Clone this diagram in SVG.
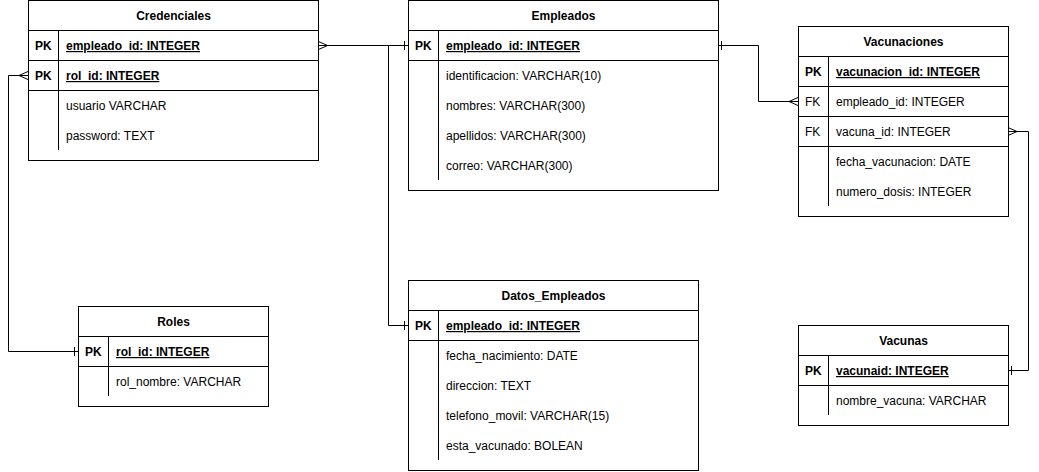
<svg xmlns="http://www.w3.org/2000/svg" width="1039" height="472" viewBox="0 0 1039 472">
<style>
.box{fill:#fff;stroke:#000;stroke-width:1}
.ln{stroke:#000;stroke-width:1;fill:none}
text{font-family:"Liberation Sans",Arial,sans-serif;font-size:12px;fill:#000}
.h{font-weight:bold;text-anchor:middle}
.k{font-weight:bold}
.u{font-weight:bold;text-decoration:underline}
</style>
<defs>
<marker id="one" viewBox="-10 -10 20 20" markerWidth="20" markerHeight="20" refX="0" refY="0" orient="auto-start-reverse" markerUnits="userSpaceOnUse"><path d="M-3.5,-4.5V4.5" stroke="#000" stroke-width="1" fill="none"/></marker>
<marker id="many" viewBox="-10 -10 20 20" markerWidth="20" markerHeight="20" refX="0" refY="0" orient="auto-start-reverse" markerUnits="userSpaceOnUse"><path d="M0,-4L-9,0L0,4" stroke="#000" stroke-width="1" fill="none"/></marker>
</defs>
<g id="connectors">
<path class="ln" d="M408,45.5H318.5" marker-start="url(#one)" marker-end="url(#many)"/>
<path class="ln" d="M408,45.5H388.5V325.5H408" marker-end="url(#one)"/>
<path class="ln" d="M28,75.5H8.5V351.5H78" marker-start="url(#many)" marker-end="url(#one)"/>
<path class="ln" d="M718,45.5H758.5V101.5H798" marker-start="url(#one)" marker-end="url(#many)"/>
<path class="ln" d="M1008,131.5H1028.5V370.5H1008" marker-start="url(#many)" marker-end="url(#one)"/>
</g>
<g id="credenciales">
<rect class="box" x="28.5" y="0.5" width="290" height="160"/>
<path class="ln" d="M28.5,30.5H318.5M28.5,60.5H318.5M28.5,90.5H318.5M58.5,30.5V150"/>
<text class="h" x="173.5" y="20">Credenciales</text>
<text class="k" x="35" y="50">PK</text><text class="u" x="66" y="50">empleado_id: INTEGER</text>
<text class="k" x="35" y="80">PK</text><text class="u" x="66" y="80">rol_id: INTEGER</text>
<text x="66" y="110">usuario VARCHAR</text>
<text x="66" y="140">password: TEXT</text>
</g>
<g id="empleados">
<rect class="box" x="408.5" y="0.5" width="310" height="190"/>
<path class="ln" d="M408.5,30.5H718.5M408.5,60.5H718.5M438.5,30.5V180"/>
<text class="h" x="563.5" y="20">Empleados</text>
<text class="k" x="415" y="50">PK</text><text class="u" x="446" y="50">empleado_id: INTEGER</text>
<text x="446" y="80">identificacion: VARCHAR(10)</text>
<text x="446" y="110">nombres: VARCHAR(300)</text>
<text x="446" y="140">apellidos: VARCHAR(300)</text>
<text x="446" y="170">correo: VARCHAR(300)</text>
</g>
<g id="vacunaciones">
<rect class="box" x="798.5" y="26.5" width="210" height="190"/>
<path class="ln" d="M798.5,56.5H1008.5M798.5,86.5H1008.5M798.5,116.5H1008.5M798.5,146.5H1008.5M828.5,56.5V206"/>
<text class="h" x="903.5" y="46">Vacunaciones</text>
<text class="k" x="805" y="76">PK</text><text class="u" x="836" y="76">vacunacion_id: INTEGER</text>
<text x="805" y="106">FK</text><text x="836" y="106">empleado_id: INTEGER</text>
<text x="805" y="136">FK</text><text x="836" y="136">vacuna_id: INTEGER</text>
<text x="836" y="166">fecha_vacunacion: DATE</text>
<text x="836" y="196">numero_dosis: INTEGER</text>
</g>
<g id="roles">
<rect class="box" x="78.5" y="306.5" width="190" height="100"/>
<path class="ln" d="M78.5,336.5H268.5M78.5,366.5H268.5M108.5,336.5V396"/>
<text class="h" x="173.5" y="326">Roles</text>
<text class="k" x="85" y="356">PK</text><text class="u" x="116" y="356">rol_id: INTEGER</text>
<text x="116" y="386">rol_nombre: VARCHAR</text>
</g>
<g id="datos_empleados">
<rect class="box" x="408.5" y="280.5" width="290" height="190"/>
<path class="ln" d="M408.5,310.5H698.5M408.5,340.5H698.5M438.5,310.5V460"/>
<text class="h" x="553.5" y="300">Datos_Empleados</text>
<text class="k" x="415" y="330">PK</text><text class="u" x="446" y="330">empleado_id: INTEGER</text>
<text x="446" y="360">fecha_nacimiento: DATE</text>
<text x="446" y="390">direccion: TEXT</text>
<text x="446" y="420">telefono_movil: VARCHAR(15)</text>
<text x="446" y="450">esta_vacunado: BOLEAN</text>
</g>
<g id="vacunas">
<rect class="box" x="798.5" y="325.5" width="210" height="100"/>
<path class="ln" d="M798.5,355.5H1008.5M798.5,385.5H1008.5M828.5,355.5V415"/>
<text class="h" x="903.5" y="345">Vacunas</text>
<text class="k" x="805" y="375">PK</text><text class="u" x="836" y="375">vacunaid: INTEGER</text>
<text x="836" y="405">nombre_vacuna: VARCHAR</text>
</g>
</svg>
